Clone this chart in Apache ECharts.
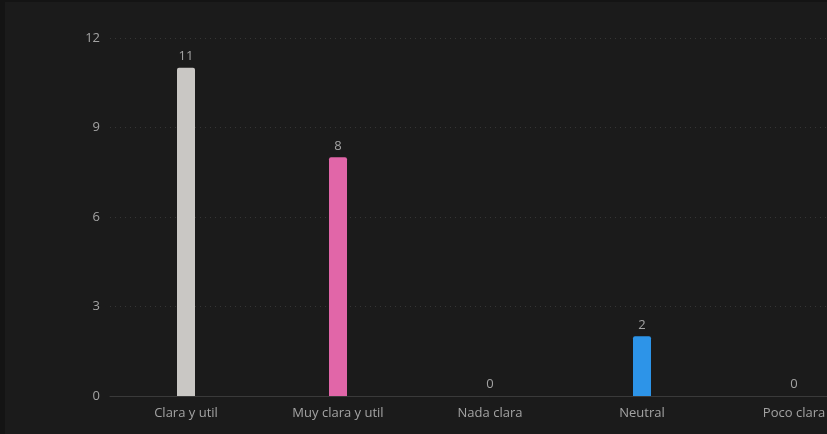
<!DOCTYPE html>
<html>
<head>
<meta charset="utf-8">
<script src="https://cdn.jsdelivr.net/npm/echarts@6/dist/echarts.min.js"></script>
<style>
  html, body { margin: 0; padding: 0; background: #141414; overflow: hidden; width: 827px; height: 434px; }
  #chart { position: absolute; left: 5px; top: 2px; width: 880px; height: 432px; background: #1b1b1b; }
</style>
</head>
<body>
<div id="chart"></div>
<script>
// Survey answers and their counts
const categories = ['Clara y util', 'Muy clara y util', 'Nada clara', 'Neutral', 'Poco clara'];
const counts = [11, 8, 0, 2, 0];
const barColors = ['#c9c7c4', '#e166a8', '#8e6bd6', '#2d94e8', '#f0a43a'];
const yTicks = { min: 0, max: 12, interval: 3 };

const chart = echarts.init(document.getElementById('chart'), null, { renderer: 'canvas' });

const textStyle = { color: '#a3a3a3', fontSize: 13, fontFamily: 'Open Sans, sans-serif' };

chart.setOption({
  backgroundColor: '#1b1b1b',
  animation: false,
  grid: { left: 105, right: 15, top: 36, bottom: 38 },
  xAxis: {
    type: 'category',
    data: categories,
    axisLine: { lineStyle: { color: '#3a3a3a', width: 1 } },
    axisTick: { show: false },
    axisLabel: Object.assign({ margin: 11 }, textStyle)
  },
  yAxis: {
    type: 'value',
    min: yTicks.min,
    max: yTicks.max,
    interval: yTicks.interval,
    axisLine: { show: false },
    axisTick: { show: false },
    axisLabel: Object.assign({ margin: 10 }, textStyle),
    splitLine: { lineStyle: { color: '#363636', type: [1, 4], width: 1 } }
  },
  series: [{
    type: 'bar',
    data: counts.map((v, i) => ({ value: v, itemStyle: { color: barColors[i] } })),
    barWidth: 18,
    itemStyle: { borderRadius: [2, 2, 0, 0] },
    label: Object.assign({ show: true, position: 'top', distance: 5 }, textStyle)
  }]
});
</script>
</body>
</html>
